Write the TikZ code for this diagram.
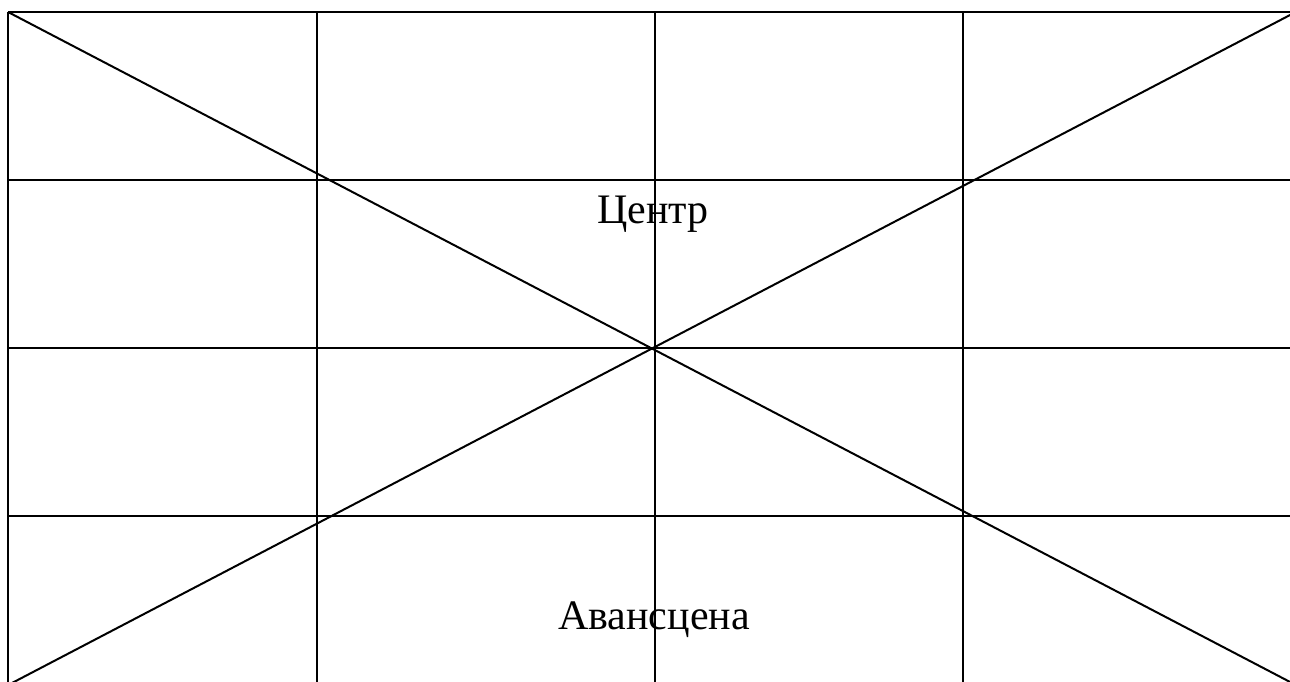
\documentclass[tikz,border=0pt]{standalone}
\usepackage{fontspec}
\setmainfont{Liberation Serif}
\tikzset{
  gridline/.style={line width=2pt, black},
  label/.style={anchor=base, inner sep=0pt, font=\fontsize{42}{50}\selectfont}
}
\begin{document}
\begin{tikzpicture}[x=1pt,y=-1pt]
\useasboundingbox (0,0) rectangle (1290,682);
\clip (0,0) rectangle (1290,682);
% corners of the grid
\coordinate (tl) at (8,12);
\coordinate (tr) at (1292,14);
\coordinate (bl) at (12,683);
\coordinate (br) at (1292,683);
% vertical lines
\foreach \x in {8,317,655,963}
  \draw[gridline] (\x,12) -- (\x,690);
% horizontal lines
\foreach \y in {12,180,348,516}
  \draw[gridline] (8,\y) -- (1300,\y);
% diagonals
\draw[gridline] (tl) -- (br);
\draw[gridline] (tr) -- (bl);
% labels
\node[label] (centre) at (653,223) {Центр};
\node[label] (avanscena) at (654,629) {Авансцена};
\end{tikzpicture}
\end{document}
